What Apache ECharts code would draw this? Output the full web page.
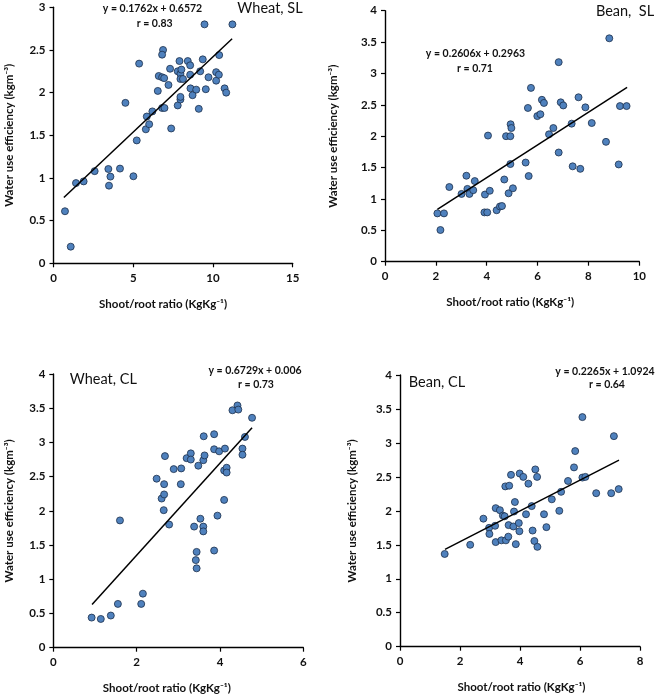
<!DOCTYPE html>
<html>
<head>
<meta charset="utf-8">
<script src="https://cdn.jsdelivr.net/npm/echarts@6/dist/echarts.min.js"></script>
<style>
html,body{margin:0;padding:0;background:#fff;}
#chart{width:660px;height:696px;}
</style>
</head>
<body>
<div id="chart"></div>
<script>
// ---- Data: Wheat, SL ----
const wheatSL_x = [0.72,1.08,1.41,1.89,2.58,3.44,3.57,3.48,4.17,5.01,4.51,5.22,5.37,5.79,5.85,6.0,6.2,6.54,6.6,6.81,6.81,6.87,6.81,6.96,6.94,7.21,7.31,7.38,7.79,7.79,7.9,7.96,7.96,7.96,7.96,8.02,8.12,8.42,8.57,8.57,8.59,8.72,8.95,9.11,9.2,9.36,9.47,9.55,9.72,10.2,10.2,10.37,10.39,10.73,10.83,11.22];
const wheatSL_y = [0.61,0.195,0.94,0.96,1.08,1.105,1.016,0.91,1.11,1.02,1.88,1.44,2.34,1.57,1.72,1.63,1.78,2.02,2.195,1.82,2.18,2.5,2.445,1.82,2.17,2.09,2.28,1.58,1.85,2.25,2.37,1.92,1.95,2.22,2.16,2.27,2.16,2.37,2.32,2.21,2.05,1.97,2.035,1.81,2.25,2.39,2.8,2.04,2.18,2.24,2.14,2.21,2.44,2.05,2.0,2.8];
// ---- Data: Bean, SL ----
const beanSL_x = [2.06,2.32,2.18,2.53,3.01,3.2,3.24,3.32,3.47,3.53,3.91,3.93,4.02,4.12,4.05,4.39,4.52,4.6,4.69,4.76,4.86,4.93,4.94,4.97,4.93,5.03,5.53,5.65,5.62,5.74,5.99,6.11,6.17,6.25,6.45,6.62,6.83,6.83,6.91,7.01,7.34,7.38,7.61,7.68,7.88,8.13,8.69,8.82,9.19,9.24,9.5];
const beanSL_y = [0.77,0.77,0.505,1.19,1.08,1.37,1.16,1.08,1.14,1.285,0.786,1.07,0.786,1.13,2.01,0.82,0.88,0.887,1.31,2.0,1.09,2.0,2.19,2.13,1.556,1.17,1.58,1.365,2.45,2.77,2.32,2.35,2.58,2.53,2.03,2.13,1.74,3.18,2.54,2.49,2.2,1.52,2.62,1.48,2.46,2.21,1.91,3.56,1.55,2.48,2.48];
// ---- Data: Wheat, CL ----
const wheatCL_x = [0.92,1.14,1.38,1.55,1.6,2.11,2.15,2.48,2.6,2.66,2.66,2.65,2.68,2.78,2.89,3.06,3.07,3.2,3.3,3.3,3.38,3.42,3.44,3.44,3.48,3.53,3.6,3.6,3.6,3.61,3.63,3.86,3.86,3.86,3.94,3.98,4.1,4.1,4.12,4.16,4.16,4.3,4.42,4.44,4.54,4.54,4.6,4.77];
const wheatCL_y = [0.44,0.42,0.47,0.64,1.86,0.64,0.79,2.47,2.18,2.24,2.39,2.01,2.8,1.8,2.61,2.39,2.62,2.77,2.84,2.75,1.77,1.28,1.4,1.16,2.66,1.885,1.77,1.7,2.74,3.09,2.81,3.12,2.9,1.42,1.93,2.87,2.16,2.59,2.91,2.63,2.56,3.47,3.54,3.48,2.91,2.82,3.08,3.36];
// ---- Data: Bean, CL ----
const beanCL_x = [1.49,2.34,2.78,2.97,2.98,3.17,3.19,3.19,3.33,3.38,3.43,3.49,3.51,3.53,3.61,3.62,3.64,3.7,3.78,3.8,3.83,3.86,3.96,3.98,3.99,4.11,4.2,4.28,4.39,4.42,4.48,4.51,4.57,4.58,4.8,4.88,5.06,5.31,5.37,5.6,5.8,5.84,6.08,6.08,6.18,6.54,7.04,7.13,7.29];
const beanCL_y = [1.365,1.5,1.885,1.75,1.66,1.78,2.04,1.54,2.01,1.566,1.93,1.92,2.36,1.566,1.62,1.79,2.37,2.53,1.77,1.99,2.13,1.51,1.82,1.7,2.55,2.5,1.95,2.4,2.07,1.71,1.556,2.61,2.5,1.47,1.95,1.76,2.17,2.0,2.28,2.44,2.64,2.88,2.49,3.38,2.5,2.26,2.26,3.1,2.32];

// ---- Regression fits (slope, intercept, x range of trendline) ----
const fitSlope = [0.1762, 0.2606, 0.6729, 0.2265];
const fitIntercept = [0.6572, 0.2963, 0.006, 1.0924];
const fitXStart = [0.65, 2.06, 0.93, 1.5];
const fitXEnd = [11.2, 9.52, 4.77, 7.3];
const equationLabels = ['y = 0.1762x + 0.6572', 'y = 0.2606x + 0.2963', 'y = 0.6729x + 0.006', 'y = 0.2265x + 1.0924'];
const rLabels = ['r = 0.83', 'r = 0.71', 'r = 0.73', 'r = 0.64'];
const panelTitles = ['Wheat, SL', 'Bean,  SL', 'Wheat, CL', 'Bean, CL'];

// ---- Axis settings ----
const xMax = [15, 10, 6, 8];
const xInterval = [5, 2, 2, 2];
const yMax = [3, 4, 4, 4];
const yInterval = [0.5, 0.5, 0.5, 0.5];
const xTitle = 'Shoot/root ratio (KgKg\u207B\u00B9)';
const yTitle = 'Water use efficiency (kgm\u207B\u00B3)';

const FONT = 'Lato, "Noto Sans", "DejaVu Sans", sans-serif';
const grids = [
  {left: 53.5, top: 7.3, width: 239.2, height: 256},
  {left: 385, top: 10.7, width: 254.3, height: 251},
  {left: 53.3, top: 374, width: 250, height: 273.7},
  {left: 400, top: 375, width: 240, height: 271.7}
];
const yNameGap = [38, 46, 38, 42];
const xNamePad = [[0, 20, 0, 0], [0, 4, 0, 0], [0, 23, 0, 0], [0, 0, 0, 3]];

const scatterSets = [
  [wheatSL_x, wheatSL_y], [beanSL_x, beanSL_y], [wheatCL_x, wheatCL_y], [beanCL_x, beanCL_y]
];

const TXT = '#111';
const axisLineStyle = {color: '#000', width: 1.4};
const xAxes = grids.map((g, i) => ({
  type: 'value', gridIndex: i, min: 0, max: xMax[i], interval: xInterval[i],
  axisLine: {show: true, onZero: false, lineStyle: axisLineStyle},
  axisTick: {show: true, length: 4, lineStyle: {color: '#000', width: 1.2}},
  splitLine: {show: false},
  axisLabel: {color: TXT, fontFamily: FONT, fontWeight: 'bold', fontSize: 11.5, margin: 9},
  name: xTitle, nameLocation: 'middle', nameGap: 35,
  nameTextStyle: {color: TXT, fontFamily: FONT, fontWeight: 'bold', fontSize: 11.5, padding: xNamePad[i]}
}));
const yAxes = grids.map((g, i) => ({
  type: 'value', gridIndex: i, min: 0, max: yMax[i], interval: yInterval[i],
  axisLine: {show: true, onZero: false, lineStyle: axisLineStyle},
  axisTick: {show: true, length: 4, lineStyle: {color: '#000', width: 1.2}},
  splitLine: {show: false},
  axisLabel: {color: TXT, fontFamily: FONT, fontWeight: 'bold', fontSize: 11.5, margin: 8},
  name: yTitle, nameLocation: 'middle', nameGap: yNameGap[i], nameRotate: 90,
  nameTextStyle: {color: TXT, fontFamily: FONT, fontWeight: 'bold', fontSize: 11.5}
}));

const series = [];
scatterSets.forEach((s, i) => {
  series.push({
    type: 'scatter', xAxisIndex: i, yAxisIndex: i,
    data: s[0].map((x, k) => [x, s[1][k]]),
    symbol: 'circle', symbolSize: 7,
    itemStyle: {color: '#4F81BD', borderColor: '#1c2f4a', borderWidth: 0.8, opacity: 1},
    z: 2
  });
  series.push({
    type: 'line', xAxisIndex: i, yAxisIndex: i,
    data: [fitXStart[i], fitXEnd[i]].map(x => [x, fitSlope[i] * x + fitIntercept[i]]),
    symbol: 'none', lineStyle: {color: '#000', width: 1.5},
    z: 3, silent: true
  });
});

const eqPos = [[152.5, 8.5], [475.5, 53.3], [255, 370.7], [605, 371.7]];
const rPos = [[154.7, 23.3], [475, 68.3], [256, 385], [607, 385]];
const titlePos = [[270, 8.3], [625, 11.7], [103.3, 379], [437, 382]];

const graphics = [];
for (let i = 0; i < 4; i++) {
  graphics.push({type: 'text', x: eqPos[i][0], y: eqPos[i][1], style: {
    text: equationLabels[i], fill: TXT, font: 'bold 10.5px ' + FONT, align: 'center', verticalAlign: 'middle'}});
  graphics.push({type: 'text', x: rPos[i][0], y: rPos[i][1], style: {
    text: rLabels[i], fill: TXT, font: 'bold 10.5px ' + FONT, align: 'center', verticalAlign: 'middle'}});
  graphics.push({type: 'text', x: titlePos[i][0], y: titlePos[i][1], style: {
    text: panelTitles[i], fill: TXT, font: '14.5px ' + FONT, align: 'center', verticalAlign: 'middle'}});
}

const chart = echarts.init(document.getElementById('chart'), null, {renderer: 'canvas'});
chart.setOption({
  animation: false,
  backgroundColor: '#fff',
  grid: grids.map(g => Object.assign({containLabel: false}, g)),
  xAxis: xAxes,
  yAxis: yAxes,
  series: series,
  graphic: graphics
});
</script>
</body>
</html>
